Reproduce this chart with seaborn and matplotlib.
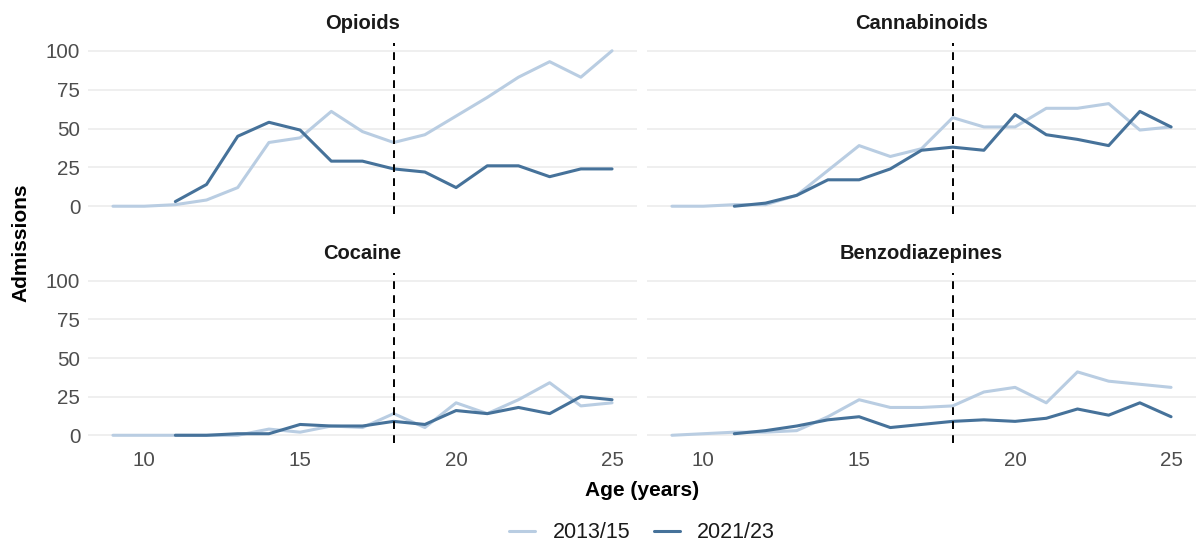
import numpy as np
import pandas as pd
import matplotlib
matplotlib.use("Agg")
import matplotlib.pyplot as plt
import seaborn as sns

# Admissions by single year of age, two periods, four drug groups
ages_2013_15 = list(range(9, 26))
ages_2021_23 = list(range(11, 26))

opioids_2013_15 = [0, 0, 1, 4, 12, 41, 44, 61, 48, 41, 46, 58, 70, 83, 93, 83, 100]
opioids_2021_23 = [3, 14, 45, 54, 49, 29, 29, 24, 22, 12, 26, 26, 19, 24, 24]

cannabinoids_2013_15 = [0, 0, 1, 1, 7, 23, 39, 32, 37, 57, 51, 51, 63, 63, 66, 49, 51]
cannabinoids_2021_23 = [0, 2, 7, 17, 17, 24, 36, 38, 36, 59, 46, 43, 39, 61, 51]

cocaine_2013_15 = [0, 0, 0, 0, 0, 4, 2, 6, 5, 14, 5, 21, 14, 23, 34, 19, 21]
cocaine_2021_23 = [0, 0, 1, 1, 7, 6, 6, 9, 7, 16, 14, 18, 14, 25, 23]

benzodiazepines_2013_15 = [0, 1, 2, 2, 3, 12, 23, 18, 18, 19, 28, 31, 21, 41, 35, 33, 31]
benzodiazepines_2021_23 = [1, 3, 6, 10, 12, 5, 7, 9, 10, 9, 11, 17, 13, 21, 12]

drugs = ["Opioids", "Cannabinoids", "Cocaine", "Benzodiazepines"]
periods = ["2013/15", "2021/23"]
series = {
    "Opioids": (opioids_2013_15, opioids_2021_23),
    "Cannabinoids": (cannabinoids_2013_15, cannabinoids_2021_23),
    "Cocaine": (cocaine_2013_15, cocaine_2021_23),
    "Benzodiazepines": (benzodiazepines_2013_15, benzodiazepines_2021_23),
}
age_threshold = 18
y_ticks = [0, 25, 50, 75, 100]
x_ticks = [10, 15, 20, 25]

rows = []
for drug in drugs:
    old, new = series[drug]
    for a, v in zip(ages_2013_15, old):
        rows.append((drug, periods[0], a, v))
    for a, v in zip(ages_2021_23, new):
        rows.append((drug, periods[1], a, v))
df = pd.DataFrame(rows, columns=["drug", "period", "age", "admissions"])

sns.set_theme(style="white")
plt.rcParams["font.family"] = ["Liberation Sans", "DejaVu Sans"]

palette = {"2013/15": "#b9cde2", "2021/23": "#46729a"}
text_grey = "#4d4d4d"

W, H = 1198, 550
fig = plt.figure(figsize=(W / 100, H / 100), dpi=100)
fig.patch.set_facecolor("white")

# panel rectangles in pixels: (left, top, right, bottom)
panel_px = {
    "Opioids": (88, 43, 637, 214),
    "Cannabinoids": (647, 43, 1196, 214),
    "Cocaine": (88, 273, 637, 443),
    "Benzodiazepines": (647, 273, 1196, 443),
}

axes = {}
for i, drug in enumerate(drugs):
    l, t, r, b = panel_px[drug]
    ax = fig.add_axes([l / W, 1 - b / H, (r - l) / W, (b - t) / H])
    axes[drug] = ax
    sub = df[df["drug"] == drug]
    sns.lineplot(data=sub, x="age", y="admissions", hue="period",
                 hue_order=periods, palette=palette, linewidth=2.2,
                 ax=ax, legend=(i == 0), estimator=None)
    ax.axvline(age_threshold, color="black", linestyle=(0, (4, 3.2)),
               linewidth=1.4, zorder=3)
    ax.set_xlim(8.2, 25.8)
    ax.set_ylim(-5, 105)
    ax.set_yticks(y_ticks)
    ax.set_xticks(x_ticks)
    ax.grid(axis="y", color="#ebebeb", linewidth=1.1)
    ax.grid(axis="x", visible=False)
    ax.set_axisbelow(True)
    for s in ax.spines.values():
        s.set_visible(False)
    ax.tick_params(length=0, labelsize=14.8, colors=text_grey, pad=5.5)
    ax.tick_params(axis="x", pad=6)
    ax.set_xlabel("")
    ax.set_ylabel("")
    ax.set_title(drug, fontsize=14.5, fontweight="bold", color="#1a1a1a", pad=10)
    if i < 2:
        ax.tick_params(axis="x", labelbottom=False)
    if i % 2 == 1:
        ax.tick_params(axis="y", labelleft=False)

handles, labels = axes["Opioids"].get_legend_handles_labels()
axes["Opioids"].get_legend().remove()
fig.legend(handles, labels, loc="center", bbox_to_anchor=(642 / W, 1 - 533 / H),
           ncol=2, frameon=False, fontsize=15.5, handlelength=1.2,
           handletextpad=0.8, columnspacing=1.1)
for t in fig.legends[0].get_texts():
    t.set_color("#1a1a1a")

fig.text(642 / W, 1 - 490 / H, "Age (years)", ha="center", va="center",
         fontsize=15, fontweight="bold", color="black")
fig.text(21 / W, 1 - 243 / H, "Admissions", ha="center", va="center",
         rotation=90, fontsize=15, fontweight="bold", color="black")

fig.savefig("out.png", dpi=100, facecolor="white")
